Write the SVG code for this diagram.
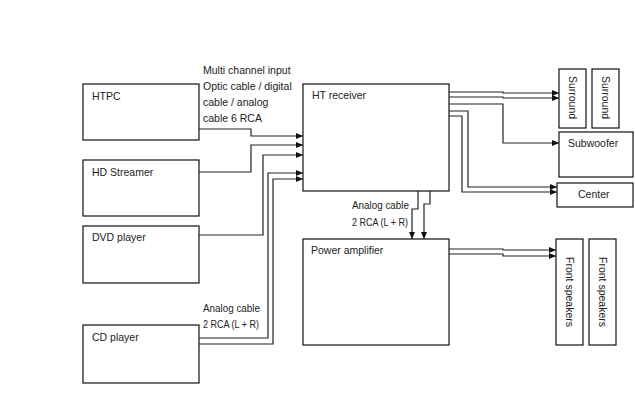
<svg xmlns="http://www.w3.org/2000/svg" width="635" height="415" viewBox="0 0 635 415">
<style>
.box{fill:#fff;stroke:#111;stroke-width:1.2}
.t{font-family:"Liberation Sans",Arial,sans-serif;font-size:10.5px;fill:#222}
.c{fill:none;stroke:#222;stroke-width:1.2}
</style>
<defs>
<marker id="ah" markerWidth="8" markerHeight="8" refX="7" refY="4" orient="auto" markerUnits="userSpaceOnUse">
<path d="M0,1 L7,4 L0,7 Z" fill="#111"/>
</marker>
</defs>
<rect width="635" height="415" fill="#fff"/>
<g id="htpc"><rect class="box" x="83" y="84" width="116" height="56"/><text class="t" x="92" y="100">HTPC</text></g>
<g id="hdstreamer"><rect class="box" x="83" y="160" width="116" height="56"/><text class="t" x="92" y="176">HD Streamer</text></g>
<g id="dvd"><rect class="box" x="83" y="226" width="116" height="57"/><text class="t" x="92" y="241">DVD player</text></g>
<g id="cd"><rect class="box" x="83" y="325" width="116" height="58"/><text class="t" x="92" y="341">CD player</text></g>
<g id="receiver"><rect class="box" x="303" y="84" width="146" height="107"/><text class="t" x="312" y="99">HT receiver</text></g>
<g id="amp"><rect class="box" x="303" y="239" width="146" height="106"/><text class="t" x="311" y="254">Power amplifier</text></g>
<g id="surround1"><rect class="box" x="559" y="69" width="27" height="59"/><text class="t" transform="translate(572.5,97.5) rotate(90)" text-anchor="middle" dominant-baseline="central">Surround</text></g>
<g id="surround2"><rect class="box" x="592" y="69" width="27" height="59"/><text class="t" transform="translate(605.5,97.5) rotate(90)" text-anchor="middle" dominant-baseline="central">Surround</text></g>
<g id="subwoofer"><rect class="box" x="559" y="132" width="74" height="45"/><text class="t" x="568" y="147">Subwoofer</text></g>
<g id="center"><rect class="box" x="557" y="183" width="76" height="24"/><text class="t" x="578" y="198">Center</text></g>
<g id="front1"><rect class="box" x="556" y="239" width="27" height="106"/><text class="t" transform="translate(569.5,292) rotate(90)" text-anchor="middle" dominant-baseline="central">Front speakers</text></g>
<g id="front2"><rect class="box" x="589" y="239" width="27" height="106"/><text class="t" transform="translate(602.5,292) rotate(90)" text-anchor="middle" dominant-baseline="central">Front speakers</text></g>
<g id="labels">
<text class="t" x="203" y="74">Multi channel input</text>
<text class="t" x="203" y="90">Optic cable / digital</text>
<text class="t" x="203" y="106">cable / analog</text>
<text class="t" x="203" y="122">cable 6 RCA</text>
<text class="t" x="352" y="209" textLength="57" lengthAdjust="spacingAndGlyphs">Analog cable</text>
<text class="t" x="352" y="226" textLength="56" lengthAdjust="spacingAndGlyphs">2 RCA (L + R)</text>
<text class="t" x="203" y="312" textLength="57" lengthAdjust="spacingAndGlyphs">Analog cable</text>
<text class="t" x="203" y="328" textLength="56" lengthAdjust="spacingAndGlyphs">2 RCA (L + R)</text>
</g>
<g id="connectors">
<path class="c" marker-end="url(#ah)" d="M199,129 H251 V136 H303"/>
<path class="c" marker-end="url(#ah)" d="M199,172 H251 V145 H303"/>
<path class="c" marker-end="url(#ah)" d="M199,235 H263 V155 H303"/>
<path class="c" marker-end="url(#ah)" d="M199,338 H268 V173 H303"/>
<path class="c" marker-end="url(#ah)" d="M199,344 H273 V179 H303"/>
<path class="c" marker-end="url(#ah)" d="M449,92 H503 V93 H559"/>
<path class="c" marker-end="url(#ah)" d="M449,97 H503 V98 H559"/>
<path class="c" marker-end="url(#ah)" d="M449,104 H503 V143 H559"/>
<path class="c" marker-end="url(#ah)" d="M449,111 H468 V187 H557"/>
<path class="c" marker-end="url(#ah)" d="M449,116 H462 V192 H557"/>
<path class="c" marker-end="url(#ah)" d="M418,191 V209 H412 V239"/>
<path class="c" marker-end="url(#ah)" d="M430,191 V204 H424 V239"/>
<path class="c" marker-end="url(#ah)" d="M449,249 H503 V250 H556"/>
<path class="c" marker-end="url(#ah)" d="M449,254 H503 V256 H556"/>
</g>
</svg>
